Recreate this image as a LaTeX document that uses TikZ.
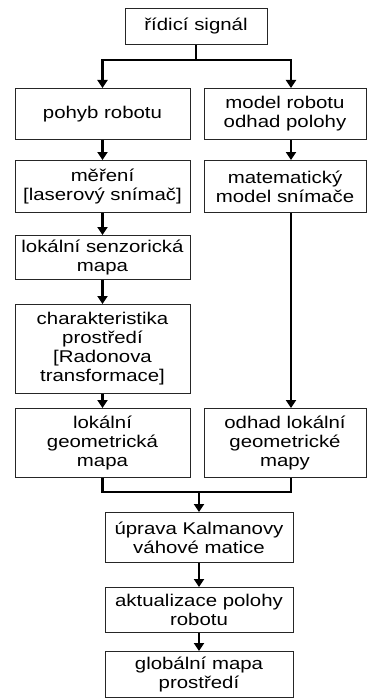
\documentclass[tikz,border=0pt]{standalone}
\usepackage{fontspec}
\setmainfont[FakeStretch=1.2]{Liberation Sans}
\usetikzlibrary{arrows.meta, positioning}

\tikzset{
	blok/.style={draw=black!85, line width=1pt, align=center, inner sep=0pt,
		anchor=north, font=\fontsize{17}{19}\selectfont},
	vodic/.style={line width=2.8pt},
	sipka/.style={vodic, -{Triangle[length=8pt,width=10pt]}}
}

\begin{document}
\begin{tikzpicture}[x=1pt,y=-1pt]
	\useasboundingbox (0,0) rectangle (368,698);
	
	% bloky
	\node (sig) [blok, minimum width=142pt, minimum height=36pt] at (196,8) {řídicí signál};
	\node (pohyb) [blok, minimum width=175pt, minimum height=51pt] at (102.5,88) {pohyb robotu};
	\node (model) [blok, minimum width=162pt, minimum height=51pt] at (285,88) {model robotu\\odhad polohy};
	\node (mereni) [blok, minimum width=175pt, minimum height=52pt] at (102.5,160) {měření\\{}[laserový snímač]};
	\node (matmod) [blok, minimum width=162pt, minimum height=52pt] at (285,160) {matematický\\model snímače};
	\node (senz) [blok, minimum width=175pt, minimum height=44pt] at (102.5,235) {lokální senzorická\\mapa};
	\node (char) [blok, minimum width=175pt, minimum height=89pt] at (102.5,304) {charakteristika\\prostředí\\{}[Radonova\\transformace]};
	\node (geo) [blok, minimum width=175pt, minimum height=69pt] at (102.5,408) {lokální\\geometrická\\mapa};
	\node (odhad) [blok, minimum width=162pt, minimum height=69pt] at (285,408) {odhad lokální\\geometrické\\mapy};
	\node (uprava) [blok, minimum width=188pt, minimum height=50pt] at (199,512) {úprava Kalmanovy\\váhové matice};
	\node (aktual) [blok, minimum width=188pt, minimum height=45pt] at (199,587) {aktualizace polohy\\robotu};
	\node (glob) [blok, minimum width=188pt, minimum height=46pt] at (199,651) {globální mapa\\prostředí};
	
	\coordinate (rozv) at (196,60);
	\coordinate (spoj) at (199,492);
	
	% spoje
	\draw [vodic] (sig.south) -- (rozv);
	\draw [sipka] (rozv) -| (pohyb.north);
	\draw [sipka] (rozv) -| ([xshift=6pt]model.north);
	\draw [sipka] (pohyb) -- (mereni);
	\draw [sipka] ([xshift=6pt]model.south) -- ([xshift=6pt]matmod.north);
	\draw [sipka] (mereni) -- (senz);
	\draw [sipka] (senz) -- (char);
	\draw [sipka] (char) -- (geo);
	\draw [sipka] ([xshift=6pt]matmod.south) -- ([xshift=6pt]odhad.north);
	\draw [vodic] (geo.south) |- (spoj) -| ([xshift=6pt]odhad.south);
	\draw [sipka] (spoj) -- (uprava.north);
	\draw [sipka] (uprava) -- (aktual);
	\draw [sipka] (aktual) -- (glob);
	
\end{tikzpicture}
\end{document}
